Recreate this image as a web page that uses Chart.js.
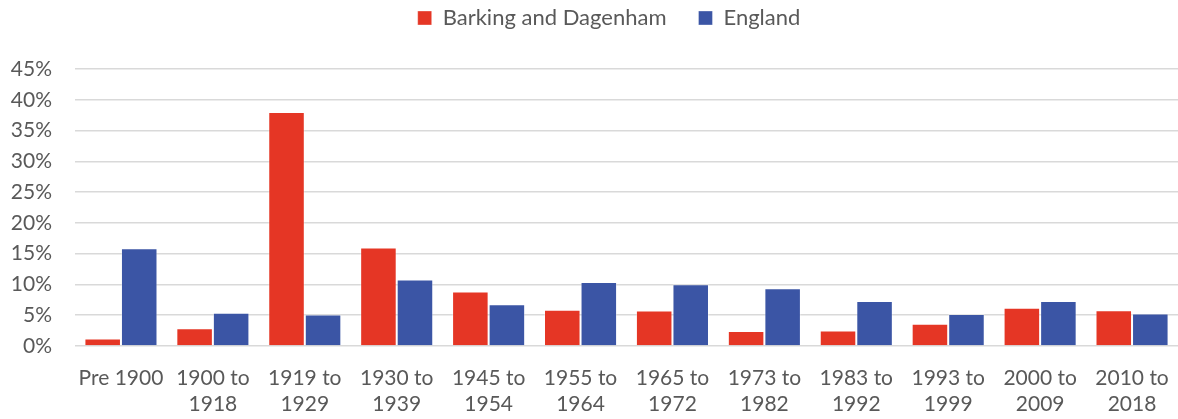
<!DOCTYPE html>
<html>
<head>
<meta charset="utf-8">
<script src="https://cdn.jsdelivr.net/npm/chart.js@4/dist/chart.umd.min.js"></script>
<style>
html,body{margin:0;padding:0;background:#fff;}
#wrap{width:1178px;height:419px;position:relative;}
</style>
</head>
<body>
<div id="wrap"><canvas id="c"></canvas></div>
<script>
const categories = [
  ['Pre 1900'], ['1900 to','1918'], ['1919 to','1929'], ['1930 to','1939'],
  ['1945 to','1954'], ['1955 to','1964'], ['1965 to','1972'], ['1973 to','1982'],
  ['1983 to','1992'], ['1993 to','1999'], ['2000 to','2009'], ['2010 to','2018']
];
const barkingDagenham = [1.2, 2.9, 38.0, 16.0, 8.85, 5.9, 5.75, 2.45, 2.5, 3.6, 6.2, 5.8];
const england = [15.9, 5.4, 5.1, 10.8, 6.8, 10.4, 10.05, 9.4, 7.3, 5.2, 7.3, 5.3];
const seriesNames = ['Barking and Dagenham', 'England'];
const yTicks = [0, 5, 10, 15, 20, 25, 30, 35, 40, 45];

const FONT = 'Lato, "Open Sans", sans-serif';
const legendTweak = {
  id: 'legendTweak',
  beforeInit(chart) {
    const orig = chart.legend.fit;
    chart.legend.fit = function () { orig.bind(chart.legend)(); this.height = 69; };
  },
  afterLayout(chart) {
    chart.legend.top -= 25;
    chart.legend.left += 30;
  }
};
new Chart(document.getElementById('c'), {
  type: 'bar',
  data: {
    labels: categories,
    datasets: [
      { label: seriesNames[0], data: barkingDagenham, backgroundColor: 'rgb(229,54,37)', borderColor: 'rgba(255,255,255,0.35)', borderWidth: 1 },
      { label: seriesNames[1], data: england, backgroundColor: 'rgb(59,85,165)', borderColor: 'rgba(255,255,255,0.35)', borderWidth: 1 }
    ]
  },
  plugins: [legendTweak],
  options: {
    responsive: true,
    maintainAspectRatio: false,
    animation: false,
    layout: { padding: { left: 10, right: 0, top: 0, bottom: 3 } },
    datasets: { bar: { categoryPercentage: 0.795, barPercentage: 1.0 } },
    plugins: {
      tooltip: { enabled: false },
      legend: {
        position: 'top',
        labels: {
          boxWidth: 14, boxHeight: 14, padding: 32,
          color: '#595959',
          font: { family: FONT, size: 22 }
        }
      }
    },
    scales: {
      x: {
        grid: { display: false, drawTicks: false },
        border: { display: false },
        afterFit: (s) => { s.height = 70; s.paddingLeft = 0; s.paddingRight = 0; },
        ticks: { color: '#595959', font: { family: FONT, size: 21, lineHeight: 1.24 }, maxRotation: 0, autoSkip: false, padding: 19 }
      },
      y: {
        min: 0, max: 45,
        afterBuildTicks: (axis) => { axis.ticks = yTicks.map(v => ({ value: v })); },
        afterFit: (s) => { s.width = 65; },
        grid: { color: '#d9d9d9', lineWidth: 1.5, drawTicks: false },
        border: { display: false },
        ticks: { color: '#595959', font: { family: FONT, size: 21 }, padding: 23, callback: (v) => v + '%' }
      }
    }
  }
});
</script>
</body>
</html>
